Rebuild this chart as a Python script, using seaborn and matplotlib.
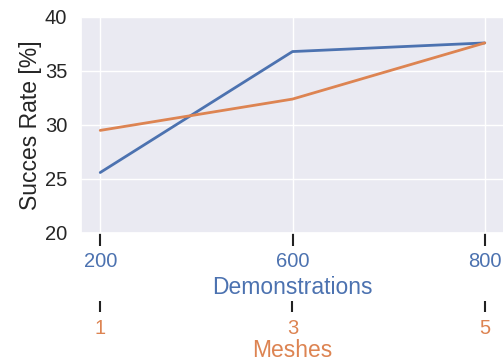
import matplotlib
matplotlib.use("Agg")
import matplotlib.pyplot as plt
import seaborn as sns

# data
positions = [0, 1, 2]
demonstrations = ["200", "600", "800"]
meshes = ["1", "3", "5"]
success_demo = [25.6, 36.8, 37.6]
success_mesh = [29.5, 32.4, 37.6]

sns.set_theme(style="darkgrid")
plt.rcParams['font.family'] = ['Liberation Sans', 'DejaVu Sans']

blue, orange = sns.color_palette()[0], sns.color_palette()[1]

fig = plt.figure(figsize=(5.03, 3.64), dpi=100)
ax = fig.add_axes([81 / 503, (364 - 233) / 364, (504 - 81) / 503, 216 / 364])

sns.lineplot(x=positions, y=success_demo, color=blue, linewidth=2, ax=ax)
sns.lineplot(x=positions, y=success_mesh, color=orange, linewidth=2, ax=ax)

ax.set_xlim(-0.1, 2.1)
ax.set_ylim(20, 40)
ax.set_yticks([20, 25, 30, 35, 40])
ax.tick_params(axis='y', labelsize=14.5, length=0, pad=10)
ax.set_ylabel("Succes Rate [%]", fontsize=16.5, labelpad=2)

# primary x axis: demonstrations
ax.set_xticks(positions)
ax.set_xticklabels(demonstrations)
ax.tick_params(axis='x', bottom=True, labelsize=14.5, length=9, width=1.5,
               color='#222222', labelcolor=blue, direction='out', pad=5)
ax.set_xlabel("Demonstrations", fontsize=16.5, color=blue, labelpad=3)

# secondary x axis: meshes
sec = ax.secondary_xaxis(-0.315)
sec.set_xticks(positions)
sec.set_xticklabels(meshes)
sec.tick_params(axis='x', bottom=True, labelsize=14.5, length=8, width=1.5,
                color='#222222', labelcolor=orange, pad=5)
sec.set_xlabel("Meshes", fontsize=16.5, color=orange, labelpad=1)
for s in sec.spines.values():
    s.set_visible(False)

fig.savefig("out.png", dpi=100)
